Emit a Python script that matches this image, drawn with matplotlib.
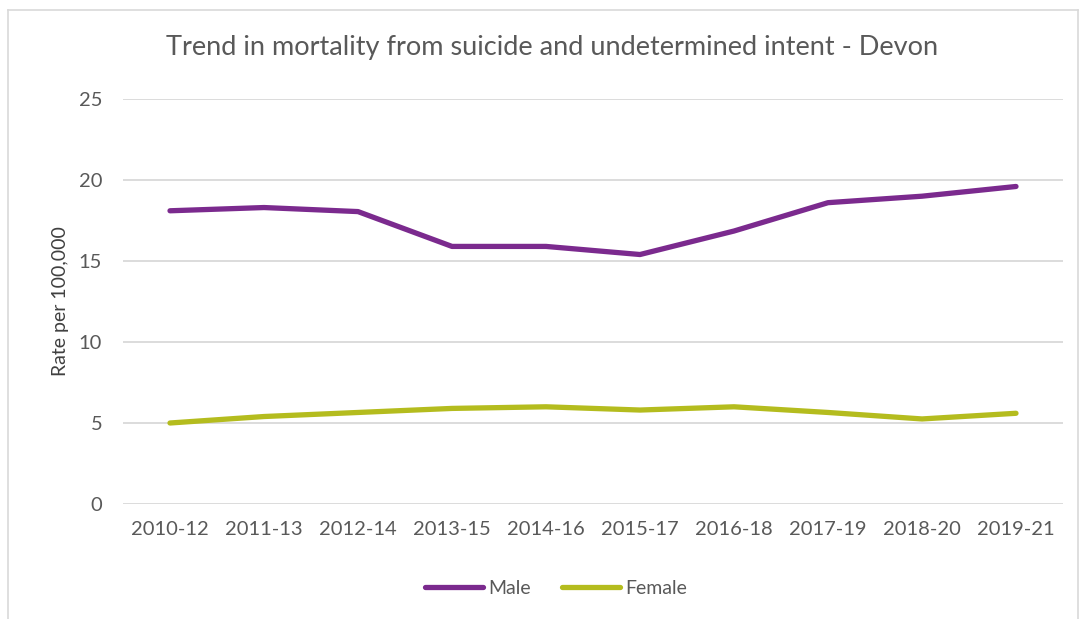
import matplotlib
matplotlib.use('Agg')
import matplotlib.pyplot as plt
from matplotlib.lines import Line2D

# data
periods = ['2010-12', '2011-13', '2012-14', '2013-15', '2014-16',
           '2015-17', '2016-18', '2017-19', '2018-20', '2019-21']
male = [18.1, 18.3, 18.05, 15.9, 15.9, 15.4, 16.85, 18.6, 19.0, 19.6]
female = [5.0, 5.4, 5.65, 5.9, 6.0, 5.8, 6.0, 5.65, 5.25, 5.6]
yticks = [0, 5, 10, 15, 20, 25]

plt.rcParams['font.family'] = ['Lato', 'DejaVu Sans']
txt = '#595959'

W, H = 1085, 619
fig = plt.figure(figsize=(W / 100, H / 100), dpi=100)
# plot area in pixels: x 123..1063, y 99..504
ax = fig.add_axes([123 / W, 1 - 504 / H, (1063 - 123) / W, (504 - 99) / H])

x = list(range(len(periods)))
ax.plot(x, male, color='#7B2A8E', lw=3.8, solid_capstyle='round', label='Male')
ax.plot(x, female, color='#B4BC1E', lw=3.8, solid_capstyle='round', label='Female')

ax.set_xlim(-0.5, len(periods) - 0.5)
ax.set_ylim(0, 25)
ax.set_yticks(yticks)
ax.set_xticks(x)
ax.set_xticklabels(periods)
ax.tick_params(axis='both', length=0, labelsize=14.5, colors=txt)
ax.tick_params(axis='y', pad=15)
ax.tick_params(axis='x', pad=12)
ax.grid(axis='y', color='#D9D9D9', lw=1.3)
ax.set_axisbelow(True)
for s in ax.spines.values():
    s.set_visible(False)

ax.set_ylabel('Rate per 100,000', fontsize=14, color='#404040')
ax.yaxis.set_label_coords(-(123 - 69) / 940, 0.5)

fig.text(552 / W, 1 - 47 / H, 'Trend in mortality from suicide and undetermined intent - Devon',
         ha='center', va='center', fontsize=19.5, color=txt)

leg = fig.legend(loc='center', bbox_to_anchor=(556 / W, 1 - 588 / H), ncol=2, frameon=False,
                 fontsize=14, handlelength=3.0, columnspacing=1.6, handletextpad=0.25)
for t in leg.get_texts():
    t.set_color(txt)

# outer chart frame (top, left and right edges)
fc = '#D9D9D9'
fig.add_artist(Line2D([8 / W, 1078 / W], [1 - 10 / H, 1 - 10 / H], transform=fig.transFigure, color=fc, lw=1.2))
fig.add_artist(Line2D([8 / W, 8 / W], [0, 1 - 10 / H], transform=fig.transFigure, color=fc, lw=1.2))
fig.add_artist(Line2D([1078 / W, 1078 / W], [0, 1 - 10 / H], transform=fig.transFigure, color=fc, lw=1.2))

fig.savefig('out.png', dpi=100, facecolor='white')
